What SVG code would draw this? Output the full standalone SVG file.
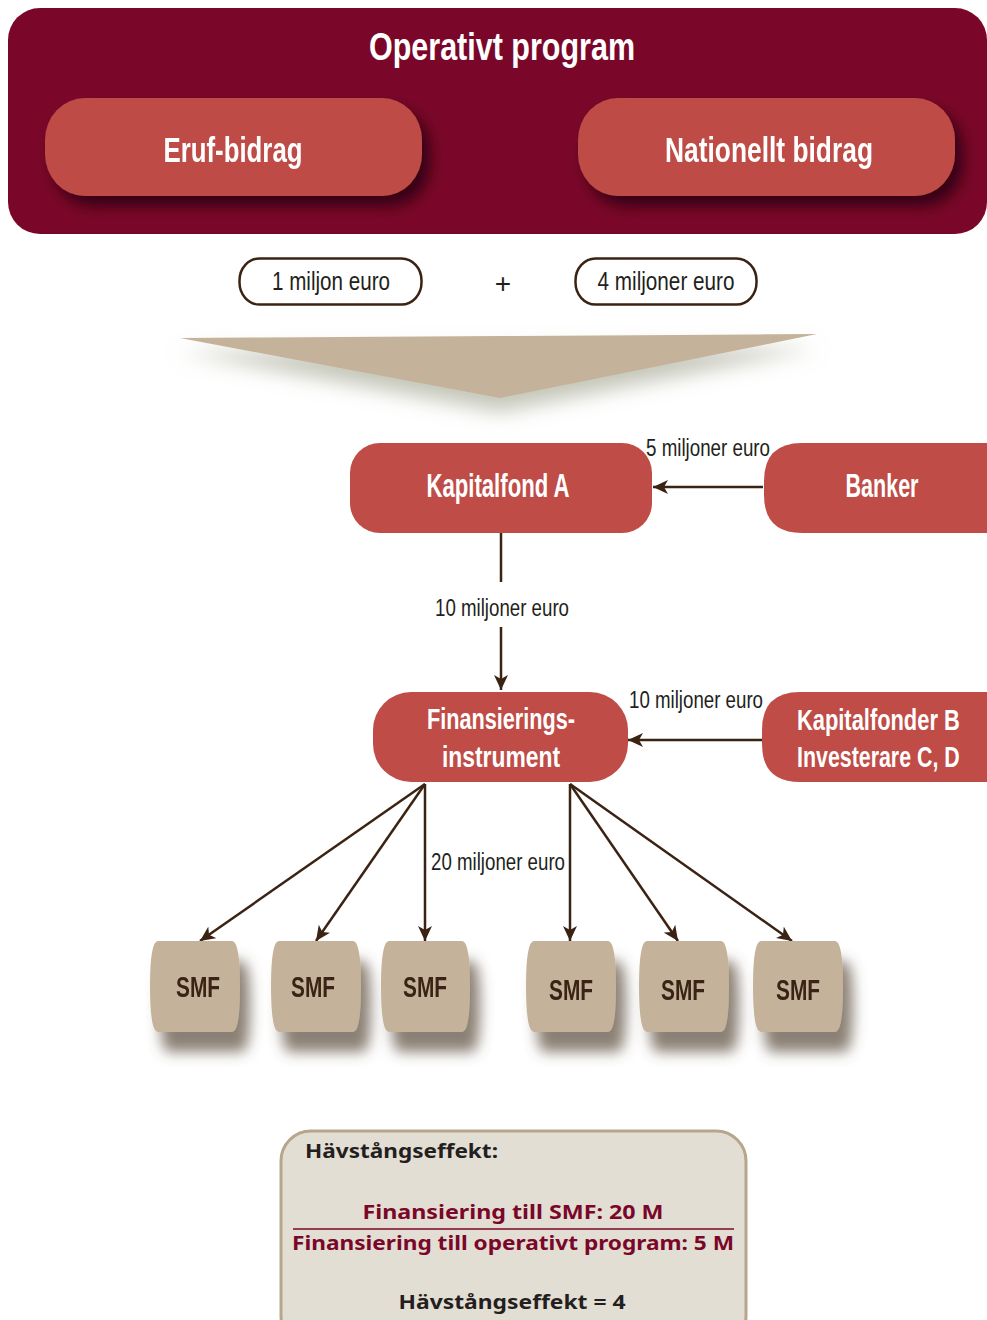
<svg xmlns="http://www.w3.org/2000/svg" width="987" height="1320" viewBox="0 0 987 1320">
<style>
.cw{font-family:"Liberation Sans",Arial,sans-serif;font-weight:bold;fill:#fff;text-anchor:middle}
.lab{font-family:"Liberation Sans",Arial,sans-serif;fill:#231f20;text-anchor:middle}
.smf{font-family:"Liberation Sans",Arial,sans-serif;font-weight:bold;fill:#3b2314;text-anchor:middle;font-size:29px}
.red{fill:#bf4c46}
.tan{fill:#c4b39a}
.con{stroke:#3b2314;stroke-width:2.5;fill:none}
.bt{font-family:"Noto Sans","Open Sans",sans-serif;font-weight:bold;font-size:20px}
</style>
<defs>
<filter id="sh1" x="-20%" y="-20%" width="150%" height="160%">
<feGaussianBlur in="SourceAlpha" stdDeviation="7"/>
<feOffset dx="8" dy="10" result="b"/>
<feFlood flood-color="#2a0010" flood-opacity="0.85"/>
<feComposite in2="b" operator="in"/>
<feMerge><feMergeNode/><feMergeNode in="SourceGraphic"/></feMerge>
</filter>
<filter id="sh2" x="-30%" y="-30%" width="180%" height="180%">
<feGaussianBlur in="SourceAlpha" stdDeviation="7"/>
<feOffset dx="10" dy="20" result="b"/>
<feFlood flood-color="#5a4a3a" flood-opacity="0.7"/>
<feComposite in2="b" operator="in"/>
<feMerge><feMergeNode/><feMergeNode in="SourceGraphic"/></feMerge>
</filter>
<filter id="sh3" x="-20%" y="-50%" width="140%" height="250%">
<feGaussianBlur in="SourceAlpha" stdDeviation="10"/>
<feOffset dx="0" dy="14" result="b"/>
<feFlood flood-color="#9ea08a" flood-opacity="0.6"/>
<feComposite in2="b" operator="in"/>
<feMerge><feMergeNode/><feMergeNode in="SourceGraphic"/></feMerge>
</filter>
<marker id="ah" markerUnits="userSpaceOnUse" markerWidth="16" markerHeight="14" refX="15" refY="7" orient="auto">
<path d="M0,0 L15,7 L0,14 L4,7 Z" fill="#3b2314"/>
</marker>
</defs>
<rect width="987" height="1320" fill="#fff"/>

<g id="operativt-program">
<rect x="8" y="8" width="979" height="226" rx="32" ry="32" fill="#7a0729"/>
<text class="cw" x="502" y="60" font-size="39" textLength="266" lengthAdjust="spacingAndGlyphs">Operativt  program</text>
</g>
<g id="eruf-bidrag" filter="url(#sh1)">
<rect class="red" x="45" y="98" width="377" height="98" rx="40" ry="42"/>
<text class="cw" x="233" y="162" font-size="35" textLength="139" lengthAdjust="spacingAndGlyphs">Eruf-bidrag</text>
</g>
<g id="nationellt-bidrag" filter="url(#sh1)">
<rect class="red" x="578" y="98" width="377" height="98" rx="40" ry="42"/>
<text class="cw" x="769" y="162" font-size="35" textLength="208" lengthAdjust="spacingAndGlyphs">Nationellt bidrag</text>
</g>

<g id="en-miljon">
<rect x="239.5" y="258.5" width="182" height="46" rx="20" ry="22" fill="#fff" stroke="#3b2314" stroke-width="2.5"/>
<text class="lab" x="331" y="290" font-size="25" textLength="118" lengthAdjust="spacingAndGlyphs">1 miljon euro</text>
</g>
<text class="lab" x="503" y="293" font-size="28">+</text>
<g id="fyra-miljoner">
<rect x="575.5" y="258.5" width="181" height="46" rx="20" ry="22" fill="#fff" stroke="#3b2314" stroke-width="2.5"/>
<text class="lab" x="666" y="290" font-size="25" textLength="137" lengthAdjust="spacingAndGlyphs">4 miljoner euro</text>
</g>

<g id="tratt" filter="url(#sh3)">
<polygon points="180,338 817,334 500,398" class="tan"/>
</g>

<g id="kapitalfond-a">
<rect class="red" x="350" y="443" width="302" height="90" rx="30" ry="30"/>
<text class="cw" x="498" y="497" font-size="33" textLength="143" lengthAdjust="spacingAndGlyphs">Kapitalfond A</text>
</g>
<g id="banker">
<path class="red" d="M802,443 H987 V533 H802 Q764,533 764,495 V481 Q764,443 802,443 Z"/>
<text class="cw" x="882" y="497" font-size="33" textLength="73" lengthAdjust="spacingAndGlyphs">Banker</text>
</g>

<g id="finansieringsinstrument">
<rect class="red" x="373" y="692" width="255" height="90" rx="38" ry="38"/>
<text class="cw" x="501" y="729" font-size="29" textLength="148" lengthAdjust="spacingAndGlyphs">Finansierings-</text>
<text class="cw" x="501" y="767" font-size="29" textLength="118" lengthAdjust="spacingAndGlyphs">instrument</text>
</g>
<g id="kapitalfonder-b">
<path class="red" d="M800,692 H987 V782 H800 Q762,782 762,744 V730 Q762,692 800,692 Z"/>
<text class="cw" transform="translate(797,730) scale(0.75,1)" x="0" y="0" font-size="29" style="text-anchor:start" textLength="217" lengthAdjust="spacingAndGlyphs">Kapitalfonder B</text>
<text class="cw" transform="translate(797,767) scale(0.75,1)" x="0" y="0" font-size="29" style="text-anchor:start" textLength="217" lengthAdjust="spacingAndGlyphs">Investerare C, D</text>
</g>

<g id="connectors">
<line class="con" x1="763" y1="487" x2="653" y2="487" marker-end="url(#ah)"/>
<line class="con" x1="501" y1="533" x2="501" y2="582"/>
<line class="con" x1="501" y1="627" x2="501" y2="690" marker-end="url(#ah)"/>
<line class="con" x1="762" y1="740" x2="628" y2="740" marker-end="url(#ah)"/>
<line class="con" x1="425" y1="784" x2="200" y2="941" marker-end="url(#ah)"/>
<line class="con" x1="425" y1="784" x2="316" y2="941" marker-end="url(#ah)"/>
<line class="con" x1="425" y1="784" x2="425" y2="941" marker-end="url(#ah)"/>
<line class="con" x1="570" y1="784" x2="570" y2="941" marker-end="url(#ah)"/>
<line class="con" x1="570" y1="784" x2="678" y2="941" marker-end="url(#ah)"/>
<line class="con" x1="570" y1="784" x2="792" y2="941" marker-end="url(#ah)"/>
<text class="lab" x="708" y="456" font-size="23" textLength="124" lengthAdjust="spacingAndGlyphs">5 miljoner euro</text>
<text class="lab" x="502" y="616" font-size="23" textLength="134" lengthAdjust="spacingAndGlyphs">10 miljoner euro</text>
<text class="lab" x="696" y="708" font-size="23" textLength="134" lengthAdjust="spacingAndGlyphs">10 miljoner euro</text>
<text class="lab" x="498" y="870" font-size="23" textLength="134" lengthAdjust="spacingAndGlyphs">20 miljoner euro</text>
</g>

<g id="smf1" filter="url(#sh2)"><path class="tan" d="M158,941 H232 Q240,941 240,986 Q240,1032 232,1032 H158 Q150,1032 150,986 Q150,941 158,941 Z"/><text class="smf" x="198" y="997" textLength="44" lengthAdjust="spacingAndGlyphs">SMF</text></g>
<g id="smf2" filter="url(#sh2)"><path class="tan" d="M279,941 H353 Q361,941 361,986 Q361,1032 353,1032 H279 Q271,1032 271,986 Q271,941 279,941 Z"/><text class="smf" x="313" y="997" textLength="44" lengthAdjust="spacingAndGlyphs">SMF</text></g>
<g id="smf3" filter="url(#sh2)"><path class="tan" d="M389,941 H462 Q470,941 470,986 Q470,1032 462,1032 H389 Q381,1032 381,986 Q381,941 389,941 Z"/><text class="smf" x="425" y="997" textLength="44" lengthAdjust="spacingAndGlyphs">SMF</text></g>
<g id="smf4" filter="url(#sh2)"><path class="tan" d="M534,941 H608 Q616,941 616,986 Q616,1032 608,1032 H534 Q526,1032 526,986 Q526,941 534,941 Z"/><text class="smf" x="571" y="1000" textLength="44" lengthAdjust="spacingAndGlyphs">SMF</text></g>
<g id="smf5" filter="url(#sh2)"><path class="tan" d="M647,941 H721 Q729,941 729,986 Q729,1032 721,1032 H647 Q639,1032 639,986 Q639,941 647,941 Z"/><text class="smf" x="683" y="1000" textLength="44" lengthAdjust="spacingAndGlyphs">SMF</text></g>
<g id="smf6" filter="url(#sh2)"><path class="tan" d="M761,941 H835 Q843,941 843,986 Q843,1032 835,1032 H761 Q753,1032 753,986 Q753,941 761,941 Z"/><text class="smf" x="798" y="1000" textLength="44" lengthAdjust="spacingAndGlyphs">SMF</text></g>

<g id="havstangseffekt">
<rect x="281" y="1131" width="465" height="215" rx="30" ry="30" fill="#e3ded3" stroke="#b5a68c" stroke-width="3"/>
<text class="bt" x="305" y="1158" fill="#231f20" textLength="193" lengthAdjust="spacingAndGlyphs">Hävstångseffekt:</text>
<text class="bt" x="513" y="1219" fill="#7a0729" text-anchor="middle" textLength="301" lengthAdjust="spacingAndGlyphs">Finansiering till SMF: 20 M</text>
<line x1="293" y1="1229" x2="734" y2="1229" stroke="#7a0729" stroke-width="1.5"/>
<text class="bt" x="513" y="1250" fill="#7a0729" text-anchor="middle" textLength="442" lengthAdjust="spacingAndGlyphs">Finansiering till operativt program: 5 M</text>
<text class="bt" x="512" y="1309" fill="#231f20" text-anchor="middle" textLength="227" lengthAdjust="spacingAndGlyphs">Hävstångseffekt = 4</text>
</g>
</svg>
